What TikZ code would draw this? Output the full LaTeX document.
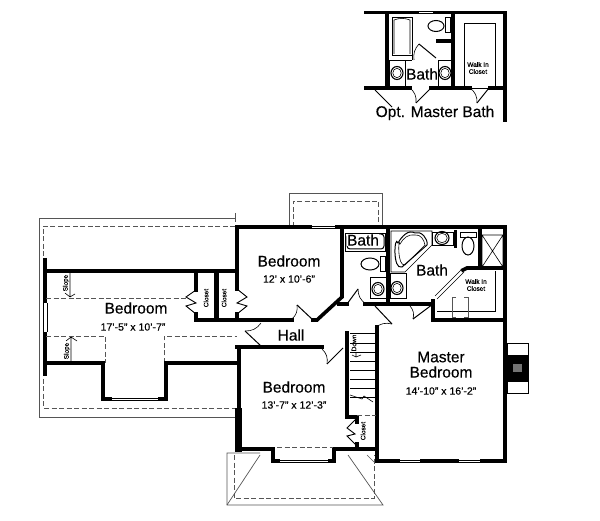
\documentclass[tikz,border=0pt]{standalone}
\usepackage{fontspec}
\setmainfont{Liberation Sans}[FakeBold=0.35]
\usetikzlibrary{positioning}
\definecolor{thinGray}{HTML}{555555}
\tikzset{wall/.style={line width=3.6pt, line cap=rect, black}}
\tikzset{heavy-wall/.style={wall, line width=7pt, line cap=butt}}
\tikzset{thin-line/.style={line width=0.6pt, black}}
\tikzset{roof-line/.style={line width=0.7pt, thinGray}}
\tikzset{roof-dash/.style={roof-line, dash pattern=on 5pt off 2.5pt}}
\tikzset{room-label/.style={font=\fontsize{15.5}{16}\selectfont, inner sep=0}}
\tikzset{size-label/.style={font=\fontsize{10.5}{11}\selectfont, inner sep=0}}
\tikzset{tiny-label/.style={font=\fontsize{6.5}{7}\selectfont, inner sep=0, align=center}}
\newcommand{\doorswing}[4]{
    \draw[thin-line, line width=1pt] (#1) -- (#2);
    \draw[thin-line] (#2) to[#4=28] (#3);
}
\newcommand{\sink}[3]{
    \draw[line width=1.1pt] (#1,#2) ellipse (#3 and 6.5);
    \draw[thin-line] (#1,#2) ellipse (#3-1.8 and 4.7);
}
\begin{document}
\begin{tikzpicture}[x=1pt, y=-1pt]
    \useasboundingbox (0,0) rectangle (600,521);

    % option plan
    \draw[wall] (366,12.5) -- (417,12.5) (435,12.5) -- (505,12.5) -- (505,120);
    \draw[thin-line] (417,11.5) -- (435,11.5) (417,13.5) -- (435,13.5);
    \draw[wall] (387,13) -- (387,88) (453,13) -- (453,88);
    \draw[wall] (366,88) -- (410,88) (431,88) -- (470,88) (490,88) -- (505,88);
    \draw[wall] (438,41) -- (453,41);
    \draw[thin-line] (392,17) rectangle (412,55) (389,60) rectangle (405,87) (438,60) rectangle (452,87);
    \draw[thin-line] (394,54) -- (394,20) to[bend left=20] (410,20) -- (410,54);
    \draw[thin-line] (405,60) -- (412,60) (412,55) -- (412,60);
    \sink{397}{73}{6}
    \sink{445}{73}{6}
    \draw[line width=1pt] (436,26) ellipse (8 and 5.5);
    \draw[line width=1pt] (445,18) rectangle (450,33);
    \draw[thin-line] (464,23) rectangle (495,88);
    \draw[thin-line, line width=1pt] (419,44) -- (436,58);
    \draw[thin-line] (419,44) to[bend right=25] (414,60);
    \doorswing{431,88}{416,103}{410,88}{bend right}
    \doorswing{489,88}{477,103}{470,88}{bend right}
    \draw[thin-line, line width=1pt] (375,90) -- (392,107);
    \node[room-label] (optbathlabel) at (422,74) {Bath};
    \node[tiny-label] (optcloset) at (478,68) {Walk In\\Closet};
    \node[room-label] (opttitle) at (435,113) {Opt. Master Bath};

    % roof outlines
    \draw[roof-line] (235,218) -- (39,218) -- (39,417) -- (235,417);
    \draw[roof-line] (235,213) -- (235,222);
    \draw[roof-dash] (235,226) -- (43,226) -- (43,408) -- (235,408);
    \draw[roof-line] (289,227) -- (289,193) -- (382,193) -- (382,227);
    \draw[roof-dash] (293,227) -- (293,201) -- (378,201) -- (378,227);
    \draw[roof-line] (260,453) -- (227,453) -- (227,505) -- (383,505) -- (348,455);
    \draw[roof-line] (227,505) -- (260,455);
    \draw[roof-dash] (234,455) -- (234,498) -- (374,498) -- (374,455);
    \draw[roof-line] (367,455) -- (374,462);

    % chimney
    \draw[thin-line, line width=0.8pt] (507,343) rectangle (528,393);
    \fill[black] (505,355) rectangle (528,382);
    \fill[black!55] (513,364) rectangle (522,372);

    % outer walls
    \draw[wall] (237,227) -- (310,227) (337,227) -- (505,227) -- (505,461) -- (482,461);
    \draw[thin-line] (310,226) -- (337,226) (310,228.5) -- (337,228.5);
    \draw[wall] (457,461) -- (422,461) (398,461) -- (377,461) -- (377,327);
    \draw[thin-line] (482,460) -- (457,460) (482,462) -- (457,462) (422,460) -- (398,460) (422,462) -- (398,462);

    % left bedroom
    \draw[wall, line width=4.5pt, line cap=butt] (45,258) -- (45,303) (45,332) -- (45,376);
    \draw[thin-line] (43,303) -- (43,332) (47,303) -- (47,332);
    \draw[wall] (45,271) -- (237,271) (237,227) -- (237,289);
    \draw[wall] (237,314) -- (237,320);
    \draw[wall] (196,271) -- (196,290) (196,314) -- (196,320) -- (292,320);
    \draw[wall] (217,271) -- (217,319);
    \draw[thin-line] (214,272) -- (214,319);
    \draw[thin-line, line width=0.9pt] (196,290) -- (186,297) -- (196,303) -- (186,306) -- (196,314);
    \draw[thin-line, line width=0.9pt] (237,289) -- (247,297) -- (237,303) -- (247,306) -- (237,314);
    \draw[roof-dash] (46,298) -- (186,298);
    \draw[roof-dash] (46,336) -- (105,336) -- (105,363);
    \draw[roof-dash] (164,363) -- (164,336) -- (237,336);
    \draw[wall] (45,363) -- (103,363) -- (103,399) -- (110,399);
    \draw[wall] (160,399) -- (166,399) -- (166,363) -- (238,363);
    \draw[thin-line] (110,398) -- (160,398) (110,400.5) -- (160,400.5);
    \draw[roof-line] (238,363) -- (238,408);
    \draw[thin-line] (70,273) -- (70,297) (65,293) -- (70,297) -- (75,294);
    \draw[thin-line] (71,362) -- (71,337) (66,341) -- (71,337) -- (77,341);

    % top bedroom, hall
    \draw[wall] (342,227) -- (342,297) -- (317,320) -- (313,320);
    \doorswing{313,320}{297,305}{292,319}{bend left}
    \doorswing{261,346}{245,331}{261,323}{bend right}
    \draw[wall] (237,347) -- (322,347);
    \draw[wall] (339,304) -- (347,304) (365,304) -- (433,304);
    \doorswing{347,304}{358,289}{366,304}{bend right}
    \doorswing{375,306}{392,324}{375,328}{bend right}

    % middle bath
    \draw[wall] (388,227) -- (388,303);
    \draw[thin-line] (345,233) rectangle (385,251);
    \draw[line width=1pt, rounded corners=3pt] (347,234) rectangle (384,249);
    \draw[line width=1pt, fill=white] (370,264) ellipse (9 and 6);
    \draw[line width=1pt] (380,257) rectangle (385,272);
    \draw[thin-line] (370,277) rectangle (386,298) (390,273) rectangle (406,298);
    \sink{378}{289}{6}
    \sink{397}{288}{6}
    \node[room-label, fill=white, inner sep=0.5pt] (midbathlabel) at (363,240) {Bath};

    % master bath
    \draw[thin-line] (391,231) -- (432,231) -- (432,245) -- (405,272) -- (391,272) -- cycle;
    \draw[line width=1pt] (402,267) to[out=200, in=110, looseness=1.1] (398,243) to[out=60, in=150] (415,233) to[out=20, in=80] (427,245) -- cycle;
    \draw[thin-line] (405,265) to[out=190, in=100] (400,244) to[out=60, in=170] (415,235) to[out=10, in=100] (425,245) -- cycle;
    \draw[thin-line] (432,232) rectangle (453,245);
    \sink{442}{238}{7}
    \draw[wall, line width=3pt] (455,232) -- (455,247);
    \draw[line width=1pt] (468,246) ellipse (6 and 9);
    \draw[line width=1pt] (460,233) rectangle (476,238);
    \draw[wall] (480,229) -- (480,268) -- (505,268);
    \draw[wall] (463,270) -- (467,268) -- (480,268);
    \draw[thin-line] (482,235) rectangle (503,267) (482,235) -- (503,267) (482,267) -- (503,235);
    \draw[thin-line] (464,272) -- (437,299) (462,269) -- (435,296);
    \draw[wall] (433,301) -- (433,320) -- (505,320);
    \draw[thin-line] (437,311) -- (495,311) -- (495,271);
    \draw[roof-line] (456,297) -- (452,297) -- (452,317) -- (456,317) (464,297) -- (468,297) -- (468,317) -- (464,317);
    \doorswing{433,304}{413,319}{410,306}{bend right}

    % right bedroom and stairs
    \draw[wall] (347,333) -- (347,417) -- (357,417) -- (357,422);
    \draw[wall] (357,444) -- (357,449);
    \draw[thin-line, line width=0.9pt] (356,419) -- (347,428) -- (355,434) -- (347,436) -- (356,445);
    \draw[roof-dash] (357,415) -- (376,415);
    \foreach \treadY in {333,343,352,361,370,379,388,397} {
        \draw[thin-line] (350,\treadY) -- (376,\treadY);
    }
    \draw[thin-line] (350,395) -- (362,399) -- (364,396) -- (373,402);
    \draw[thin-line] (356,353) -- (356,357) (352,355) -- (356,357) -- (361,355);

    % lower bedroom
    \draw[heavy-wall] (238,408) -- (238,452);
    \draw[wall] (239,348) -- (239,408);
    \draw[wall] (237,449) -- (273,449) -- (273,461) -- (278,461);
    \draw[wall] (330,461) -- (334,461) -- (334,449) -- (377,449);
    \draw[thin-line] (278,460) -- (330,460) (278,462) -- (330,462);
    \draw[roof-dash] (277,447) -- (333,447);
    \doorswing{343,348}{327,364}{322,349}{bend right}

    % labels
    \node[room-label] (leftbed) at (136,308) {Bedroom};
    \node[size-label] (leftsize) at (133,327) {17'-5" x 10'-7"};
    \node[room-label] (topbed) at (289,261) {Bedroom};
    \node[size-label] (topsize) at (289,279) {12' x 10'-6"};
    \node[room-label] (hall) at (291,335) {Hall};
    \node[room-label] (lowbed) at (294,387) {Bedroom};
    \node[size-label] (lowsize) at (294,405) {13'-7" x 12'-3"};
    \node[room-label] (master) at (441,357) {Master};
    \node[room-label] (masterbed) at (441,372) {Bedroom};
    \node[size-label] (mastersize) at (441,391) {14'-10" x 16'-2"};
    \node[room-label] (masterbath) at (432,270) {Bath};
    \node[tiny-label] (masterwalk) at (476,285) {Walk In\\Closet};
    \node[tiny-label, rotate=90] (slopetop) at (66,283) {Slope};
    \node[tiny-label, rotate=90] (slopelow) at (67,351) {Slope};
    \node[tiny-label, rotate=90] (closetleft) at (206,298) {Closet};
    \node[tiny-label, rotate=90] (closetright) at (224,298) {Closet};
    \node[tiny-label, rotate=90] (closetlow) at (363,431) {Closet};
    \node[tiny-label, rotate=90] (down) at (354,343) {Down};
\end{tikzpicture}
\end{document}
